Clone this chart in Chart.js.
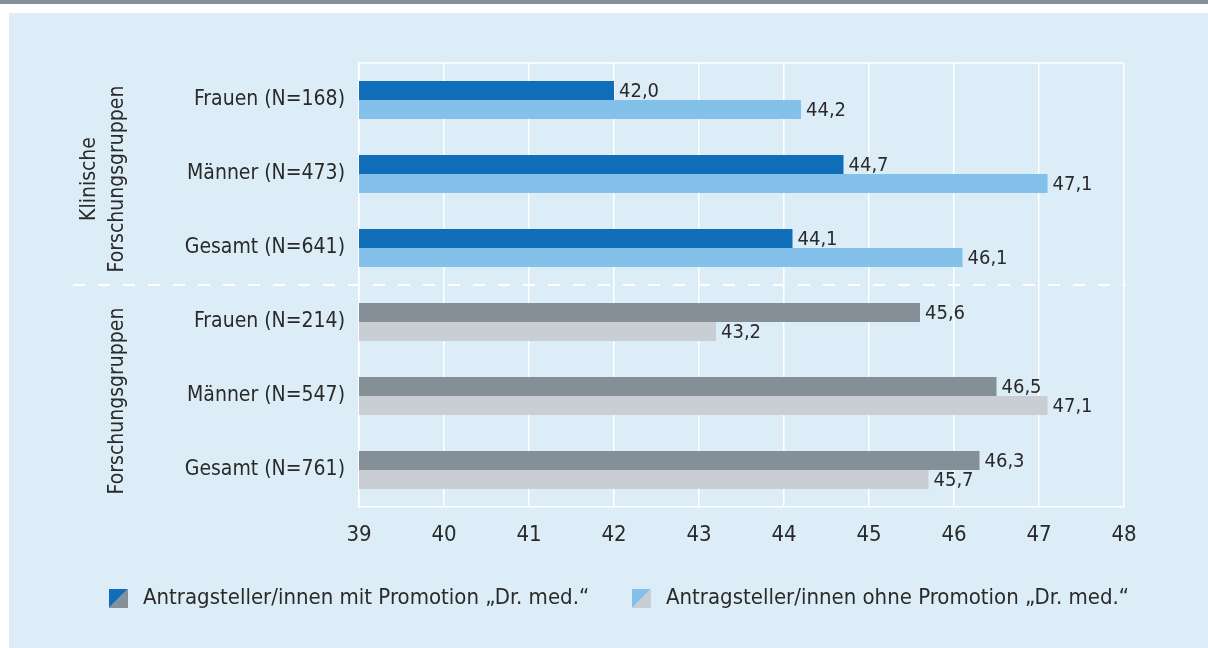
<!DOCTYPE html>
<html>
<head>
<meta charset="utf-8">
<script src="https://cdn.jsdelivr.net/npm/chart.js@4.4.1/dist/chart.umd.min.js"></script>
<style>
  html, body { margin: 0; padding: 0; background: #fff; }
  #wrap { width: 1208px; height: 648px; }
</style>
</head>
<body>
<div id="wrap"><canvas id="chart" width="1208" height="648"></canvas></div>
<script>
// rows, top to bottom
const categories = [
  'Frauen (N=168)', 'Männer (N=473)', 'Gesamt (N=641)',
  'Frauen (N=214)', 'Männer (N=547)', 'Gesamt (N=761)'
]
const groups = [
  { lines: ['Klinische', 'Forschungsgruppen'], from: 0, to: 2 },
  { lines: ['Forschungsgruppen'], from: 3, to: 5 }
]
const mitPromotion = [42.0, 44.7, 44.1, 45.6, 46.5, 46.3]
const ohnePromotion = [44.2, 47.1, 46.1, 43.2, 47.1, 45.7]
const xTicks = [39, 40, 41, 42, 43, 44, 45, 46, 47, 48]
const seriesNames = [
  'Antragsteller/innen mit Promotion \u201eDr. med.\u201c',
  'Antragsteller/innen ohne Promotion \u201eDr. med.\u201c'
]

const FONT = "'DejaVu Sans Condensed', 'Liberation Sans Narrow', sans-serif"
const TEXT = '#2a2a2a'
const colors = {
  blue: '#106db8', lightBlue: '#83c1eb',
  grey: '#848f97', lightGrey: '#c9ced5',
  panel: '#ddedf8'
}

const groupColor = (i, a, b) => i < 3 ? a : b

// page frame: grey rule, white gap, light blue panel
const framePlugin = {
  id: 'frame',
  beforeDraw(chart) {
    const ctx = chart.ctx
    ctx.save()
    ctx.fillStyle = '#fff'
    ctx.fillRect(0, 0, chart.width, chart.height)
    ctx.fillStyle = colors.grey
    ctx.fillRect(0, 0, chart.width, 4)
    ctx.fillStyle = colors.panel
    ctx.fillRect(9, 13, chart.width - 9, chart.height - 13)
    ctx.restore()
  },
  beforeDatasetsDraw(chart) {
    // top edge of the plot box
    const { ctx, chartArea: a } = chart
    ctx.save()
    ctx.strokeStyle = '#fff'
    ctx.lineWidth = 1.5
    ctx.beginPath()
    ctx.moveTo(a.left, a.top)
    ctx.lineTo(a.right, a.top)
    ctx.stroke()
    ctx.restore()
  }
}

// values written after each bar, with decimal comma
const valueLabels = {
  id: 'valueLabels',
  afterDatasetsDraw(chart) {
    const ctx = chart.ctx
    ctx.save()
    ctx.font = '20px ' + FONT
    ctx.fillStyle = TEXT
    ctx.textAlign = 'left'
    ctx.textBaseline = 'middle'
    chart.data.datasets.forEach((ds, di) => {
      chart.getDatasetMeta(di).data.forEach((bar, i) => {
        ctx.fillText(ds.data[i].toFixed(1).replace('.', ','), bar.x + 5, bar.y + 1)
      })
    })
    ctx.restore()
  }
}

// rotated group names, dashed separator and legend
const extras = {
  id: 'extras',
  afterDraw(chart) {
    const ctx = chart.ctx
    const y = chart.scales.y
    const a = chart.chartArea
    ctx.save()

    // separator between the two groups
    const sepY = (y.getPixelForValue(2) + y.getPixelForValue(3)) / 2
    ctx.strokeStyle = '#fff'
    ctx.lineWidth = 2
    ctx.setLineDash([12, 13])
    ctx.beginPath()
    ctx.moveTo(73, sepY)
    ctx.lineTo(a.right + 2, sepY)
    ctx.stroke()
    ctx.setLineDash([])

    ctx.font = '21px ' + FONT
    ctx.fillStyle = TEXT
    ctx.textAlign = 'center'
    ctx.textBaseline = 'middle'
    groups.forEach(g => {
      const cy = (y.getPixelForValue(g.from) + y.getPixelForValue(g.to)) / 2 + 5
      const n = g.lines.length
      g.lines.forEach((line, k) => {
        const cx = 118 - (n - 1 - k) * 28
        ctx.save()
        ctx.translate(cx, cy)
        ctx.rotate(-Math.PI / 2)
        ctx.fillText(line, 0, 0)
        ctx.restore()
      })
    })

    // legend boxes split diagonally (clinical colour / other colour)
    const legend = [
      { x: 109, text: seriesNames[0], c1: colors.blue, c2: colors.grey },
      { x: 632, text: seriesNames[1], c1: colors.lightBlue, c2: colors.lightGrey }
    ]
    const ly = 589, s = 19
    ctx.font = '22px ' + FONT
    ctx.textAlign = 'left'
    legend.forEach(item => {
      ctx.fillStyle = item.c1
      ctx.beginPath()
      ctx.moveTo(item.x, ly)
      ctx.lineTo(item.x + s, ly)
      ctx.lineTo(item.x, ly + s)
      ctx.closePath()
      ctx.fill()
      ctx.fillStyle = item.c2
      ctx.beginPath()
      ctx.moveTo(item.x + s, ly)
      ctx.lineTo(item.x + s, ly + s)
      ctx.lineTo(item.x, ly + s)
      ctx.closePath()
      ctx.fill()
      ctx.fillStyle = TEXT
      ctx.fillText(item.text, item.x + 34, ly + s / 2)
    })
    ctx.restore()
  }
}

const data = {
  labels: categories,
  datasets: [
    {
      label: seriesNames[0],
      data: mitPromotion,
      backgroundColor: mitPromotion.map((v, i) => groupColor(i, colors.blue, colors.grey))
    },
    {
      label: seriesNames[1],
      data: ohnePromotion,
      backgroundColor: ohnePromotion.map((v, i) => groupColor(i, colors.lightBlue, colors.lightGrey))
    }
  ]
}

const ctx = document.getElementById('chart').getContext('2d')
new Chart(ctx, {
  type: 'bar',
  data: data,
  options: {
    indexAxis: 'y',
    responsive: false,
    animation: false,
    maintainAspectRatio: false,
    layout: { padding: { top: 63, right: 84, left: 0, bottom: 0 } },
    datasets: {
      bar: { categoryPercentage: 0.514, barPercentage: 1, borderWidth: 0 }
    },
    scales: {
      x: {
        min: 39,
        max: 48,
        afterBuildTicks: scale => { scale.ticks = xTicks.map(v => ({ value: v })) },
        afterFit: scale => { scale.height = 141 },
        grid: { color: '#fff', lineWidth: 1.5, drawTicks: false },
        border: { color: '#fff', width: 1.5 },
        ticks: { color: TEXT, padding: 15, font: { family: FONT, size: 22 } }
      },
      y: {
        afterFit: scale => { scale.width = 359 },
        grid: { display: false, drawTicks: false },
        border: { color: '#fff', width: 1.5 },
        ticks: { color: TEXT, padding: 14, font: { family: FONT, size: 21 } }
      }
    },
    plugins: {
      legend: { display: false },
      tooltip: { enabled: false }
    }
  },
  plugins: [framePlugin, valueLabels, extras]
})
</script>
</body>
</html>
